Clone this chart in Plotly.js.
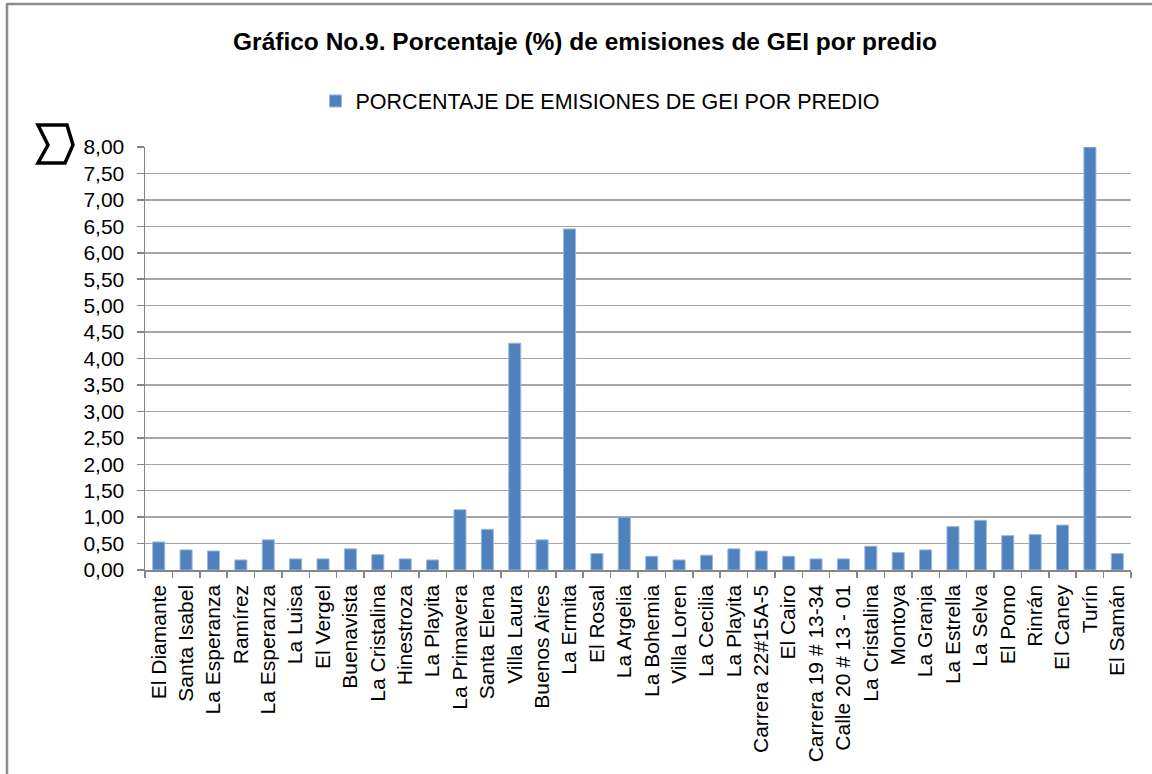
<!DOCTYPE html>
<html>
<head>
<meta charset="utf-8">
<script src="https://cdn.plot.ly/plotly-3.0.1.min.js"></script>
<style>html,body{margin:0;padding:0;background:#fff;}#chart{width:1152px;height:774px;}</style>
</head>
<body>
<div id="chart"></div>
<script>
const predios = ["El Diamante","Santa Isabel","La Esperanza","Ramírez","La Esperanza","La Luisa","El Vergel","Buenavista","La Cristalina","Hinestroza","La Playita","La Primavera","Santa Elena","Villa Laura","Buenos Aires","La Ermita","El Rosal","La Argelia","La Bohemia","Villa Loren","La Cecilia","La Playita","Carrera 22#15A-5","El Cairo","Carrera 19 # 13-34","Calle 20 # 13 - 01","La Cristalina","Montoya","La Granja","La Estrella","La Selva","El Pomo","Rinrán","El Caney","Turín","El Samán"];
const porcentaje = [0.53,0.38,0.36,0.19,0.57,0.21,0.21,0.40,0.29,0.21,0.19,1.14,0.77,4.29,0.57,6.45,0.31,1.00,0.26,0.19,0.28,0.40,0.36,0.26,0.21,0.21,0.45,0.33,0.38,0.82,0.94,0.65,0.67,0.85,8.00,0.31];
const serieNombre = "PORCENTAJE DE EMISIONES DE GEI POR PREDIO";
const titulo = "Gráfico No.9. Porcentaje (%) de emisiones de GEI por predio";

const idx = predios.map((_, i) => i);
const bounds = predios.map((_, i) => i - 0.5).concat([predios.length - 0.5]);

// plot area in pixels
const L = 145, R = 1131, T = 147, B = 570;
const px = x => (x - L) / (R - L);
const py = y => (B - y) / (B - T);
const pts = [[38,125],[67,125],[73,145],[65,163],[38,163],[48,145]];
const sigmaPath = 'M' + pts.map(p => px(p[0]).toFixed(5) + ',' + py(p[1]).toFixed(5)).join('L') + 'Z';

const FONT = "Liberation Sans, Arial, sans-serif";

const trace = {
  type: 'bar',
  x: idx,
  y: porcentaje,
  name: serieNombre,
  marker: {color: '#4F81BD', line: {color: '#9CB8DB', width: 1}},
  showlegend: true,
  hoverinfo: 'y'
};

const layout = {
  width: 1152, height: 774,
  paper_bgcolor: '#fff', plot_bgcolor: '#fff',
  separators: ',.',
  margin: {l: L, r: 1152 - R, t: T, b: 774 - B, pad: 0},
  font: {family: FONT, color: '#000', size: 20},
  title: {text: '<b>' + titulo + '</b>', x: 585/1152, xref: 'container', xanchor: 'center', y: 1 - 41/774, yref: 'container', yanchor: 'middle', font: {family: FONT, size: 24.5, color: '#000'}},
  showlegend: true,
  legend: {orientation: 'h', x: 0.462, xanchor: 'center', y: py(101), yanchor: 'middle', font: {family: FONT, size: 21.5, color: '#000'}, bgcolor: 'rgba(0,0,0,0)'},
  bargap: 0.56,
  xaxis: {
    type: 'linear', range: [-0.5, predios.length - 0.5],
    tickmode: 'array', tickvals: idx, ticktext: predios, tickangle: -90,
    ticks: '', showgrid: false, zeroline: false,
    showline: true, linecolor: '#868686', linewidth: 1.5,
    tickfont: {family: FONT, size: 21, color: '#000'},
    ticklabelstandoff: 5,
    minor: {tickmode: 'array', tickvals: bounds, ticks: 'outside', ticklen: 6, tickcolor: '#868686', tickwidth: 1.5, showgrid: false},
    fixedrange: true
  },
  yaxis: {
    range: [0, 8], dtick: 0.5, tick0: 0, tickformat: '.2f',
    ticks: 'outside', ticklen: 7, tickcolor: '#868686', tickwidth: 1.5,
    showline: true, linecolor: '#868686', linewidth: 1.5,
    showgrid: true, gridcolor: '#A6A6A6', gridwidth: 1.5, zeroline: false,
    tickfont: {family: FONT, size: 21, color: '#000'},
    ticklabelstandoff: 8,
    fixedrange: true
  },
  shapes: [
    {type: 'path', xref: 'paper', yref: 'paper', path: sigmaPath, line: {color: '#000', width: 3.5}, fillcolor: 'rgba(0,0,0,0)'},
    {type: 'line', xref: 'paper', yref: 'paper', x0: px(6), x1: px(1152), y0: py(4), y1: py(4), line: {color: '#8C8C8C', width: 2.5}},
    {type: 'line', xref: 'paper', yref: 'paper', x0: px(7), x1: px(7), y0: py(4), y1: py(774), line: {color: '#8C8C8C', width: 2.5}}
  ]
};

Plotly.newPlot('chart', [trace], layout, {displayModeBar: false, staticPlot: true});
</script>
</body>
</html>
